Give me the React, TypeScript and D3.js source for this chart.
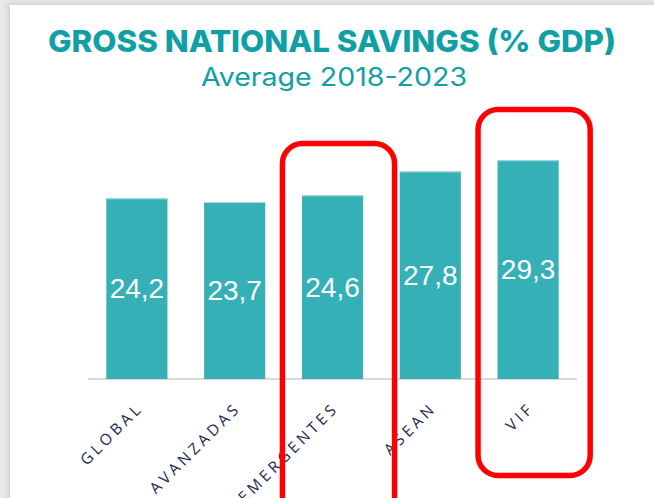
import React from "react";
import * as d3 from "d3";

const categories = ["GLOBAL", "AVANZADAS", "EMERGENTES", "ASEAN", "VIF"];
const values = [24.2, 23.7, 24.6, 27.8, 29.3];
const highlighted = ["EMERGENTES", "VIF"];
const title = "GROSS NATIONAL SAVINGS (% GDP)";
const subtitle = "Average 2018-2023";

const W = 654;
const H = 498;
const TEAL = "#35b0b7";
const TITLE_TEAL = "#0f9fa5";
const NAVY = "#1c2a52";

export default function App() {
  const x = d3
    .scaleBand<string>()
    .domain(categories)
    .range([88, 577])
    .paddingInner(0.375)
    .paddingOuter(0.1875);
  const y = d3.scaleLinear().domain([0, 30]).range([379, 155]);
  const fmt = (v: number) => d3.format(".1f")(v).replace(".", ",");
  const bw = x.bandwidth();

  return (
    <svg
      width={W}
      height={H}
      style={{ position: "absolute", left: 0, top: 0, display: "block" }}
    >
      <defs>
        <filter id="sh" x="-10%" y="-10%" width="120%" height="120%">
          <feGaussianBlur stdDeviation="3" />
        </filter>
      </defs>
      <rect x={0} y={0} width={W} height={H} fill="#e9e9e9" />
      <rect x={8} y={3} width={W + 20} height={H + 20} fill="#cfcfcf" filter="url(#sh)" />
      <rect x={10} y={5} width={W + 20} height={H + 20} fill="#ffffff" />

      <text
        x={332}
        y={52}
        textAnchor="middle"
        fill={TITLE_TEAL}
        fontFamily="Inter, 'Open Sans', sans-serif"
        fontWeight={800}
        fontSize={30}
        textLength={568}
        lengthAdjust="spacingAndGlyphs"
      >
        {title}
      </text>
      <text
        x={334}
        y={86}
        textAnchor="middle"
        fill={TITLE_TEAL}
        fontFamily="Inter, 'Open Sans', sans-serif"
        fontWeight={400}
        fontSize={25}
        textLength={266}
        lengthAdjust="spacingAndGlyphs"
      >
        {subtitle}
      </text>

      <line x1={88} x2={577} y1={379} y2={379} stroke="#d9d9d9" strokeWidth={2} />

      {categories.map((c, i) => {
        const bx = x(c)!;
        const top = y(values[i]);
        return (
          <g key={c}>
            <rect x={bx} y={top} width={bw} height={y(0) - top} fill={TEAL} />
            <line x1={bx} x2={bx + bw} y1={top + 0.5} y2={top + 0.5} stroke="#a8dde0" strokeWidth={1} />
            <text
              x={bx + bw / 2}
              y={(top + y(0)) / 2}
              dy="0.35em"
              textAnchor="middle"
              fill="#ffffff"
              fontFamily="'Liberation Sans', Arial, sans-serif"
              fontSize={28}
            >
              {fmt(values[i])}
            </text>
            <text
              transform={`translate(${bx + bw / 2 + 7},${409}) rotate(-45)`}
              textAnchor="end"
              fill={NAVY}
              fontFamily="'Open Sans', sans-serif"
              fontSize={15.5}
              letterSpacing={3.6}
            >
              {c}
            </text>
          </g>
        );
      })}

      {highlighted.map((c) => {
        const bx = x(c)!;
        const isLast = c === categories[categories.length - 1];
        const top = isLast ? 109.5 : 143.5;
        const bottom = isLast ? 475.5 : 530;
        return (
          <rect
            key={"hl-" + c}
            x={bx - 19.5}
            y={top}
            width={bw + 51}
            height={bottom - top}
            rx={20}
            ry={20}
            fill="none"
            stroke="#ff0000"
            strokeWidth={5.5}
          />
        );
      })}
    </svg>
  );
}
